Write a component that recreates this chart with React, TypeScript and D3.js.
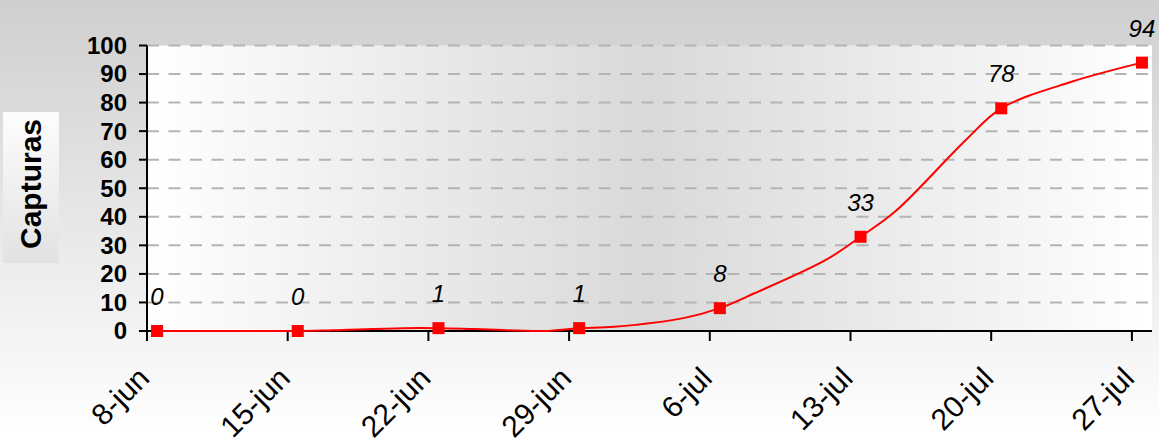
import React from "react";
import * as d3 from "d3";

const weekDates = ["2009-06-08", "2009-06-15", "2009-06-22", "2009-06-29", "2009-07-06", "2009-07-13", "2009-07-20", "2009-07-27"];
const weekLabels = ["8-jun", "15-jun", "22-jun", "29-jun", "6-jul", "13-jul", "20-jul", "27-jul"];
const markerDates = ["2009-06-08T12:00", "2009-06-15T12:00", "2009-06-22T12:00", "2009-06-29T12:00", "2009-07-06T12:00", "2009-07-13T12:00", "2009-07-20T12:00", "2009-07-27T12:00"];
const captures = [0, 0, 1, 1, 8, 33, 78, 94];

const lineDates = [
  "2009-06-08T12:00", "2009-06-10T06:00", "2009-06-13T18:00", "2009-06-15T12:00",
  "2009-06-17T06:00", "2009-06-20T18:00", "2009-06-22T12:00", "2009-06-24T06:00",
  "2009-06-27T18:00", "2009-06-29T12:00", "2009-07-01T06:00", "2009-07-04T18:00",
  "2009-07-06T12:00", "2009-07-08T06:00", "2009-07-11T18:00", "2009-07-13T12:00",
  "2009-07-15T06:00", "2009-07-18T18:00", "2009-07-20T12:00", "2009-07-24T00:00",
  "2009-07-27T12:00",
];
const lineValues = [0, 0, 0, 0, 0.3, 1, 1, 0.7, 0, 1, 1.5, 4.6, 8, 13.3, 24.8, 33, 42, 67, 78, 87.3, 94];

const yTicks = [0, 10, 20, 30, 40, 50, 60, 70, 80, 90, 100];
const yTitle = "Capturas";

const W = 1159;
const H = 438;
const FONT = "'Liberation Sans', Arial, sans-serif";

export default function App() {
  const left = 147, right = 1152, top = 45.5, bottom = 331;
  const x = d3.scaleTime().domain([new Date("2009-06-08T00:00"), new Date("2009-07-28T00:00")]).range([left, right]);
  const y = d3.scaleLinear().domain([0, 100]).range([bottom, top]);

  const linePts = lineDates.map((d, i) => [x(new Date(d)), y(lineValues[i])] as [number, number]);
  const lineGen = d3.line().curve(d3.curveCatmullRom.alpha(0.5));
  const pathD = lineGen(linePts) || "";

  return (
    <svg width={W} height={H} style={{ position: "absolute", left: 0, top: 0 }} fontFamily={FONT}>
      <defs>
        <linearGradient id="bg" x1="0" y1="0" x2="0" y2="1">
          <stop offset="0" stopColor="#cfcfcf" />
          <stop offset="1" stopColor="#ffffff" />
        </linearGradient>
        <linearGradient id="plotbg" x1="0" y1="0" x2="1" y2="0">
          <stop offset="0" stopColor="#ffffff" />
          <stop offset="0.5" stopColor="#d9d9d9" />
          <stop offset="1" stopColor="#ffffff" />
        </linearGradient>
        <linearGradient id="titlebg" x1="0" y1="0" x2="0" y2="1">
          <stop offset="0" stopColor="#fdfdfd" />
          <stop offset="1" stopColor="#e2e2e2" />
        </linearGradient>
      </defs>
      <rect x={0} y={0} width={W} height={H} fill="url(#bg)" />
      <rect x={left} y={top} width={right - left} height={bottom - top} fill="url(#plotbg)" />

      {yTicks.filter((t) => t > 0).map((t) => (
        <line key={"g" + t} x1={left} x2={right} y1={y(t)} y2={y(t)} stroke="#b4b4b4" strokeWidth={2} strokeDasharray="12 9.5" />
      ))}

      {/* axes */}
      <line x1={left} x2={left} y1={top} y2={bottom + 10} stroke="#000" strokeWidth={2} />
      <line x1={left} x2={right} y1={bottom} y2={bottom} stroke="#000" strokeWidth={2} />
      {yTicks.map((t) => (
        <g key={"y" + t}>
          <line x1={left - 8} x2={left} y1={y(t)} y2={y(t)} stroke="#000" strokeWidth={2} />
          <text x={127} y={y(t)} dy="0.35em" textAnchor="end" fontSize={24} fontWeight="bold" fill="#000">{t}</text>
        </g>
      ))}
      {weekDates.map((d, i) => {
        const xx = x(new Date(d + "T00:00"));
        return (
          <g key={"x" + i}>
            <line x1={xx} x2={xx} y1={bottom} y2={bottom + 10} stroke="#000" strokeWidth={2} />
            <text transform={`translate(${xx + 4},${bottom + 49}) rotate(-45)`} textAnchor="end" fontSize={30} fill="#000">{weekLabels[i]}</text>
          </g>
        );
      })}

      <path d={pathD} fill="none" stroke="#ff0000" strokeWidth={2} />
      {markerDates.map((d, i) => {
        const cx = x(new Date(d));
        const cy = y(captures[i]);
        return (
          <g key={"m" + i}>
            <rect x={cx - 6} y={cy - 6} width={12} height={12} fill="#ff0000" />
            <text x={cx} y={cy - 26} textAnchor="middle" fontSize={24} fontStyle="italic" fill="#000">{captures[i]}</text>
          </g>
        );
      })}

      <rect x={3} y={112} width={56} height={151} fill="url(#titlebg)" />
      <text transform="translate(30,184) rotate(-90)" textAnchor="middle" dy="0.35em" fontSize={30} fontWeight="bold" fill="#000">{yTitle}</text>
    </svg>
  );
}
